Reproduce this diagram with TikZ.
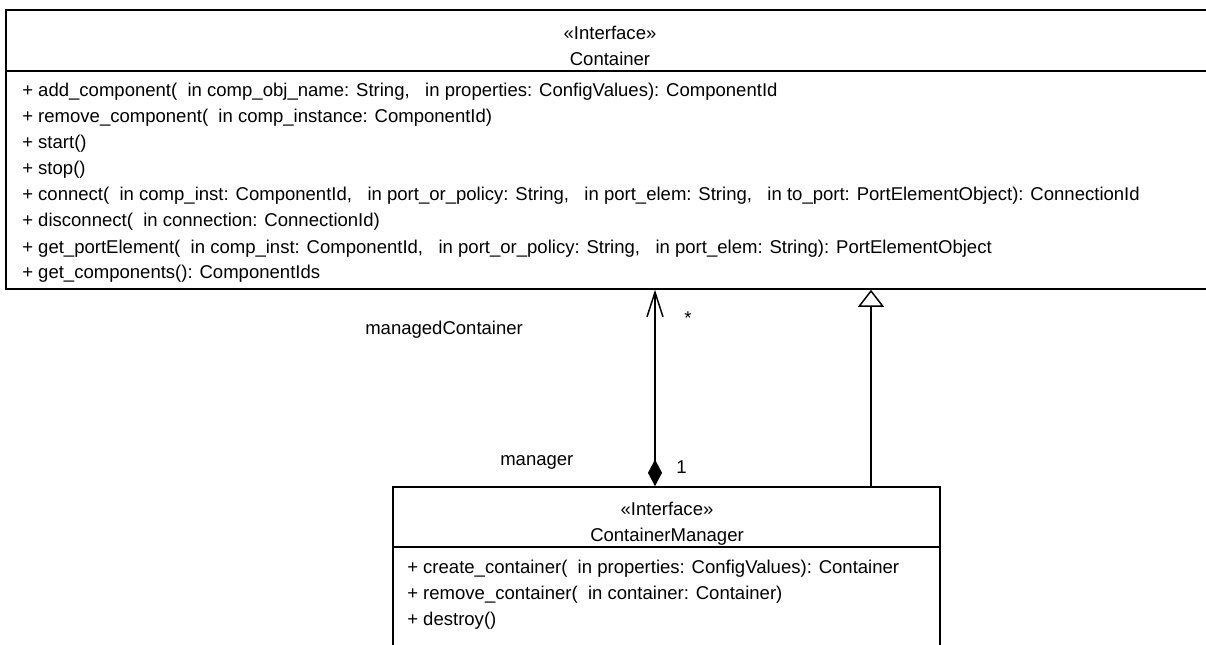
\documentclass[tikz,border=0pt]{standalone}
\usepackage{fontspec}
\setmainfont{Liberation Sans}
\usetikzlibrary{arrows.meta}
\newcommand{\umlfont}{\fontsize{13.9}{16}\selectfont}

\begin{document}
\begin{tikzpicture}[
    x=0.75pt, y=-0.75pt,
    box/.style={draw=black, line width=1.2pt, inner sep=0pt},
    sep/.style={draw=black, line width=1.2pt},
    head/.style={anchor=base, inner sep=0pt, font=\umlfont},
    txt/.style={anchor=base west, inner sep=0pt, font=\umlfont},
    assoc/.style={line width=1.1pt, {Diamond[length=20pt, width=10.5pt]}-{Straight Barb[length=18.5pt, width=12pt, line width=1.1pt]}},
    gen/.style={line width=1.1pt, -{Triangle[open, length=12.75pt, width=19.5pt, fill=white, line width=1.1pt]}}
]
\path[use as bounding box] (0,0) rectangle (1206,645);
\clip (0,0) rectangle (1206,645);

% Container interface
\node[box, minimum width=906pt, minimum height=209.25pt] (ctr) at (610,149.5) {};
\draw[sep] (ctr.west |- 0,71) -- (ctr.east |- 0,71);
\node[head] (ctrst) at (610,40) {«Interface»};
\node[head] (ctrname) at (610,66) {Container};
\node[txt] (add) at (22,97) {+ add\_component(\ \ in comp\_obj\_name: String,\ \ \ in properties: ConfigValues): ComponentId};
\node[txt] (rem) at (22,123) {+ remove\_component(\ \ in comp\_instance: ComponentId)};
\node[txt] (start) at (22,149) {+ start()};
\node[txt] (stop) at (22,175) {+ stop()};
\node[txt] (conn) at (22,201) {+ connect(\ \ in comp\_inst: ComponentId,\ \ \ in port\_or\_policy: String,\ \ \ in port\_elem: String,\ \ \ in to\_port: PortElementObject): ConnectionId};
\node[txt] (disc) at (22,227) {+ disconnect(\ \ in connection: ConnectionId)};
\node[txt] (getpe) at (22,253) {+ get\_portElement(\ \ in comp\_inst: ComponentId,\ \ \ in port\_or\_policy: String,\ \ \ in port\_elem: String): PortElementObject};
\node[txt] (getcs) at (22,279) {+ get\_components(): ComponentIds};

% ContainerManager interface
\node[box, minimum width=410.25pt, minimum height=159.75pt] (mgr) at (666.5,593.5) {};
\draw[sep] (mgr.west |- 0,547) -- (mgr.east |- 0,547);
\node[head] (mgrst) at (667,515) {«Interface»};
\node[head] (mgrname) at (667,541) {ContainerManager};
\node[txt] (create) at (407,573) {+ create\_container(\ \ in properties: ConfigValues): Container};
\node[txt] (remc) at (407,599) {+ remove\_container(\ \ in container: Container)};
\node[txt] (destroy) at (407,625) {+ destroy()};

% Connectors
\coordinate (acol) at (655,0);
\coordinate (gcol) at (871,0);
\draw[assoc] (mgr.north -| acol) -- (ctr.south -| acol);
\draw[gen] (mgr.north -| gcol) -- (ctr.south -| gcol);

% Role names and multiplicities
\node[txt] (rolectr) at (365,334) {managedContainer};
\node[txt] (multctr) at (684,325) {*};
\node[txt] (rolemgr) at (500,465) {manager};
\node[txt] (multmgr) at (676,473) {1};

\end{tikzpicture}
\end{document}
